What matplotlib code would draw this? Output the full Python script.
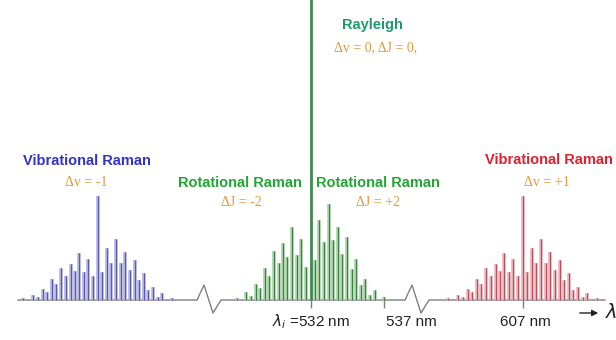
import matplotlib.pyplot as plt

# x runs on a broken wavelength scale (display units), heights are line intensities
vib_offset = [-75, -65, -60, -55, -51, -46, -42, -37, -32, -27, -23, -19, -14, -10, -5, 0,
              4, 9, 13, 18, 23, 27, 32, 37, 41, 46, 50, 55, 60, 64, 74]
vib_height = [2, 5, 3, 11, 8, 21, 16, 32, 24, 36, 29, 47, 28, 41, 24, 104,
              28, 52, 37, 61, 37, 48, 30, 40, 20, 27, 10, 13, 3, 7, 2]
vib_minus_center = 98
vib_plus_center = 523

rot_pos = [237, 246, 251, 256, 260, 265, 269, 274, 279, 283, 287, 292, 297, 301, 306,
           315, 319, 324, 329, 333, 338, 342, 347, 352, 356, 361, 365, 370, 375, 384]
rot_height = [2, 8, 4, 16, 12, 32, 24, 49, 37, 57, 43, 73, 45, 61, 33,
              40, 80, 58, 96, 60, 73, 46, 63, 31, 41, 15, 21, 5, 10, 3]
rayleigh_pos = 311
rayleigh_height = 320

tick_pos = [311, 384, 523]
tick_labels = [r'$\lambda_i$ =532 nm', '537 nm', '607 nm']
tick_label_x = [311, 411, 525]

breaks = [197, 405]          # where the wavelength axis is cut
axis_start, axis_end = 18, 605

fig = plt.figure(figsize=(6.16, 3.40), dpi=100)
ax = fig.add_axes([0, 0, 1, 1])
ax.set_xlim(0, 616)
ax.set_ylim(-40, 300)
ax.axis('off')

# baseline with zig-zag break marks
bx, by = [axis_start], [0]
for b in breaks:
    bx += [b, b + 7, b + 16, b + 24]
    by += [0, 15, -13, 0]
bx.append(axis_end)
by.append(0)
ax.plot(bx, by, color='#808080', lw=1, zorder=1)


def draw_lines(xs, hs, light, dark):
    ax.vlines(xs, 0, hs, color=light, lw=2.6, zorder=2)
    ax.vlines(xs, 0, hs, color=dark, lw=0.8, zorder=3)


draw_lines([vib_minus_center + o for o in vib_offset], vib_height, '#b4b4e4', '#5a5aa8')
draw_lines([vib_plus_center + o for o in vib_offset], vib_height, '#eab4ba', '#b8505e')
draw_lines(rot_pos, rot_height, '#a8d4a8', '#3f7f45')
ax.vlines(rayleigh_pos, 0, rayleigh_height, color='#3f8a4f', lw=2, zorder=4)

# ticks below the baseline
ax.vlines(tick_pos, -8, 2, color='#808080', lw=1, zorder=1)
for x, lab in zip(tick_label_x, tick_labels):
    ax.text(x, -22, lab, ha='center', va='center', fontsize=11,
            family='Liberation Sans', color='#222222')

# wavelength arrow
ax.annotate('', xy=(601, -13), xytext=(577, -13),
            arrowprops=dict(arrowstyle='-|>', color='#222222', lw=1, mutation_scale=9))
ax.text(605, -13, r'$\lambda$', ha='left', va='center', fontsize=14, color='#222222')

sans = dict(family='Liberation Sans', fontweight='bold', fontsize=10.5, ha='center', va='center')
serif = dict(family='Liberation Serif', fontsize=10, ha='center', va='center', color='#e09a3c')

ax.text(87, 139, 'Vibrational Raman', color='#3333c8', **sans)
ax.text(86, 118, 'Δv = -1', **serif)
ax.text(549, 140, 'Vibrational Raman', color='#e0202c', **sans)
ax.text(547, 118, 'Δv = +1', **serif)
ax.text(240, 117, 'Rotational Raman', color='#22a532', **sans)
ax.text(241, 98, 'ΔJ = -2', **serif)
ax.text(378, 117, 'Rotational Raman', color='#22a532', **sans)
ax.text(378, 98, 'ΔJ = +2', **serif)
ax.text(372, 275, 'Rayleigh', color='#1f9a6a', **sans)
ax.text(376, 252, 'Δv = 0, ΔJ = 0,', **serif)

fig.savefig('out.png', dpi=100)
